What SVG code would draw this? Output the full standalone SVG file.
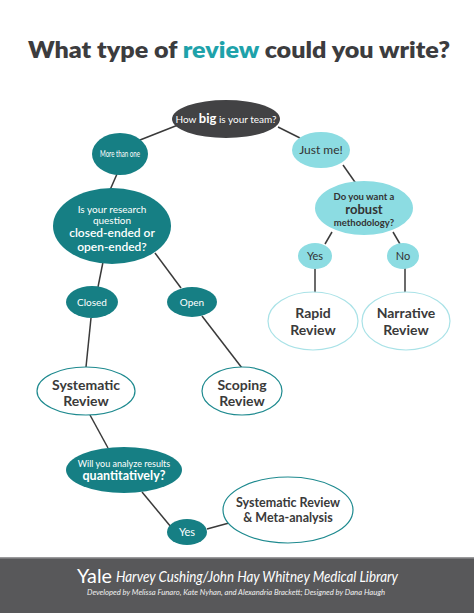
<svg xmlns="http://www.w3.org/2000/svg" width="474" height="613" viewBox="0 0 474 613">
<style>
.dark{fill:#424244}
.teal{fill:#167f84}
.light{fill:#8cdce2}
.out{fill:#fff;stroke:#1e8a8f;stroke-width:1.2}
.outl{fill:#fff;stroke:#a9e2e7;stroke-width:1.2}
text{font-family:Lato,"Open Sans","Liberation Sans",sans-serif;text-anchor:middle}
.w{fill:#fff}
.k{fill:#333}
.big{font-size:14px;font-weight:bold;fill:#3a3a3a}
#connectors line{stroke:#3a3a3a;stroke-width:1.5}
</style>
<rect width="474" height="613" fill="#fff"/>
<text x="239" y="58" font-family="'Open Sans',Lato,sans-serif" font-size="23" font-weight="800" fill="#3c3c3e" textLength="422" lengthAdjust="spacingAndGlyphs">What type of <tspan fill="#1ea2aa">review</tspan> could you write?</text>
<g id="connectors">
<line x1="140" y1="140" x2="178" y2="125"/>
<line x1="278" y1="127" x2="300" y2="138"/>
<line x1="343" y1="165" x2="357" y2="185"/>
<line x1="117" y1="174" x2="110" y2="190"/>
<line x1="332" y1="232" x2="325" y2="244"/>
<line x1="393" y1="232" x2="400" y2="244"/>
<line x1="315" y1="268" x2="315" y2="293"/>
<line x1="405" y1="268" x2="405" y2="293"/>
<line x1="103" y1="262" x2="98" y2="287"/>
<line x1="155" y1="253" x2="181" y2="288"/>
<line x1="91" y1="318" x2="86" y2="367"/>
<line x1="202" y1="316" x2="242" y2="368"/>
<line x1="90" y1="415" x2="108" y2="448"/>
<line x1="142" y1="492" x2="171" y2="527"/>
<line x1="207" y1="529" x2="229" y2="523"/>
</g>
<g id="team"><ellipse class="dark" cx="226" cy="119" rx="54" ry="19"/><text x="226" y="123" font-size="10" class="w">How <tspan font-size="13" font-weight="bold">big</tspan> is your team?</text></g>
<g id="more"><ellipse class="teal" cx="120" cy="154" rx="28" ry="21"/><text x="120" y="157" font-size="8.5" class="w" textLength="40" lengthAdjust="spacingAndGlyphs">More than one</text></g>
<g id="justme"><ellipse class="light" cx="321" cy="150" rx="29" ry="18"/><text x="321" y="154" font-size="12" class="k">Just me!</text></g>
<g id="research"><ellipse class="teal" cx="112" cy="226" rx="59" ry="38"/>
<text x="112" y="213" font-size="10" class="w">Is your research</text>
<text x="112" y="224" font-size="10" class="w">question</text>
<text x="112" y="237" font-size="12" font-weight="600" class="w">closed-ended or</text>
<text x="112" y="251" font-size="12" font-weight="600" class="w">open-ended?</text></g>
<g id="robust"><ellipse class="light" cx="364" cy="208" rx="49" ry="27"/>
<text x="364" y="200" font-size="9.5" font-weight="bold" class="k">Do you want a</text>
<text x="364" y="214" font-size="13" font-weight="bold" class="k">robust</text>
<text x="364" y="226" font-size="9.5" font-weight="bold" class="k">methodology?</text></g>
<g id="yes1"><ellipse class="light" cx="315" cy="256" rx="17" ry="13"/><text x="315" y="260" font-size="11" class="k">Yes</text></g>
<g id="no"><ellipse class="light" cx="403" cy="256" rx="16" ry="13"/><text x="403" y="260" font-size="11" class="k">No</text></g>
<g id="rapid"><ellipse class="outl" cx="313" cy="321" rx="45" ry="29"/><text x="313" y="318" class="big">Rapid</text><text x="313" y="335" class="big">Review</text></g>
<g id="narrative"><ellipse class="outl" cx="406" cy="321" rx="44" ry="29"/><text x="406" y="318" class="big">Narrative</text><text x="406" y="335" class="big">Review</text></g>
<g id="closed"><ellipse class="teal" cx="92" cy="302" rx="26" ry="16"/><text x="92" y="306" font-size="10" class="w">Closed</text></g>
<g id="open"><ellipse class="teal" cx="192" cy="302" rx="25" ry="15"/><text x="192" y="306" font-size="10" class="w">Open</text></g>
<g id="systematic"><ellipse class="out" cx="86" cy="391" rx="49" ry="24"/><text x="86" y="390" class="big">Systematic</text><text x="86" y="406" class="big">Review</text></g>
<g id="scoping"><ellipse class="out" cx="242" cy="391" rx="40" ry="24"/><text x="242" y="390" class="big">Scoping</text><text x="242" y="406" class="big">Review</text></g>
<g id="quant"><ellipse class="teal" cx="124" cy="470" rx="58" ry="23"/>
<text x="124" y="467" font-size="9" class="w">Will you analyze results</text>
<text x="124" y="480" font-size="12.5" font-weight="bold" class="w">quantitatively?</text></g>
<g id="yes2"><ellipse class="teal" cx="187" cy="532" rx="20" ry="13"/><text x="187" y="536" font-size="11" class="w">Yes</text></g>
<g id="meta"><ellipse class="out" cx="288" cy="510" rx="65" ry="33"/>
<text x="288" y="507" font-size="12.5" font-weight="bold" fill="#3a3a3a">Systematic Review</text>
<text x="288" y="522" font-size="12.5" font-weight="bold" fill="#3a3a3a">&amp; Meta-analysis</text></g>
<g id="footer">
<rect x="0" y="557" width="474" height="56" fill="#58585a"/>
<rect x="0" y="557" width="474" height="1.5" fill="#9a9a9c"/>
<text x="77" y="583" font-family="'Liberation Serif',serif" font-size="20" fill="#fff" style="text-anchor:start" textLength="35" lengthAdjust="spacingAndGlyphs">Yale</text>
<text x="116" y="582" font-family="'Liberation Serif',serif" font-size="14.5" font-style="italic" fill="#fff" style="text-anchor:start" textLength="282" lengthAdjust="spacingAndGlyphs">Harvey Cushing/John Hay Whitney Medical Library</text>
<text x="236" y="595" font-size="7" font-style="italic" fill="#f0f0f0" textLength="298" lengthAdjust="spacingAndGlyphs">Developed by Melissa Funaro, Kate Nyhan, and Alexandria Brackett; Designed by Dana Haugh</text>
</g>
</svg>
